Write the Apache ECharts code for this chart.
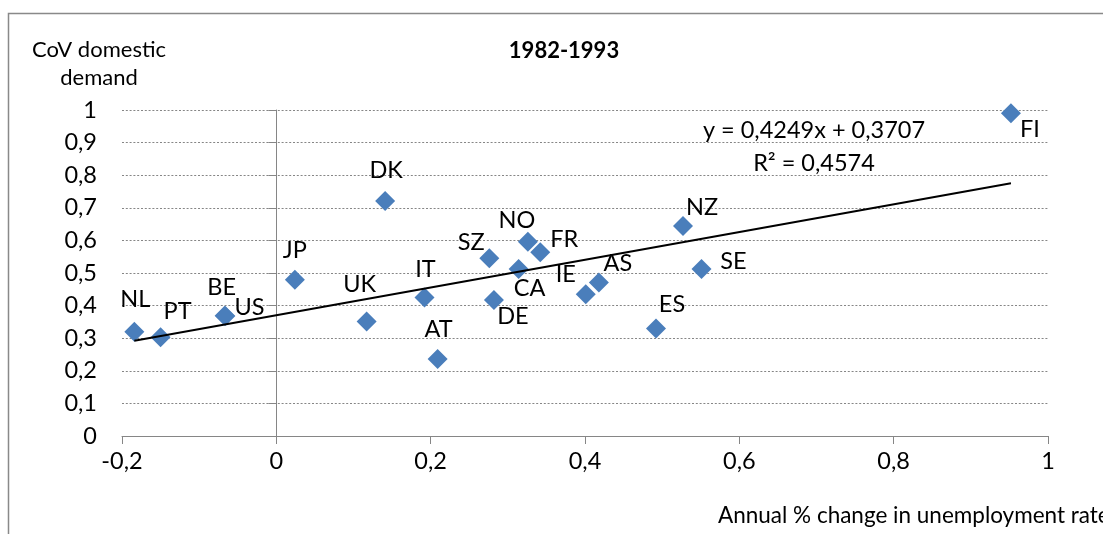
<!DOCTYPE html>
<html>
<head>
<meta charset="utf-8">
<title>1982-1993</title>
<script src="https://cdn.jsdelivr.net/npm/echarts@6/dist/echarts.min.js"></script>
<style>
  html, body { margin: 0; padding: 0; background: #fff; }
  #chart { width: 1103px; height: 534px; }
</style>
</head>
<body>
<div id="chart"></div>
<script>
// countries
const countries = ['NL', 'PT', 'BE', 'US', 'JP', 'UK', 'DK', 'IT', 'AT', 'SZ', 'DE', 'NO', 'FR', 'CA', 'IE', 'AS', 'ES', 'NZ', 'SE', 'FI']
// annual % change in unemployment rate (x)
const unemploymentChange = [-0.184, -0.150, -0.067, -0.066, 0.024, 0.117, 0.141, 0.192, 0.209, 0.276, 0.282, 0.326, 0.342, 0.314, 0.401, 0.418, 0.492, 0.527, 0.551, 0.952]
// CoV domestic demand (y)
const covDemand = [0.320, 0.303, 0.369, 0.368, 0.479, 0.351, 0.721, 0.425, 0.236, 0.545, 0.417, 0.596, 0.564, 0.512, 0.435, 0.471, 0.330, 0.644, 0.512, 0.990]
// linear trend line end points
const trendX = [-0.184, 0.952]
const trendY = [0.292, 0.775]
const trendText = ['y = 0,4249x + 0,3707', 'R² = 0,4574']

// where each label sits relative to its marker (px)
const labelOffset = {
  NL: [1, -32], PT: [17, -26], BE: [-3, -28], US: [24, -9], JP: [0, -29],
  UK: [-7, -37], DK: [1, -31], IT: [1, -28], AT: [1, -30], SZ: [-18, -16],
  DE: [19, 16], NO: [-11, -21], FR: [24, -13], CA: [11, 19], IE: [-20, -20],
  AS: [19, -19], ES: [16, -24], NZ: [19, -19], SE: [32, -8], FI: [19, 16]
}

const FONT = 'Lato'
const GRAY = '#868686'
const comma = v => String(Math.round(v * 10) / 10).replace('.', ',')

const chart = echarts.init(document.getElementById('chart'))

const points = countries.map((c, i) => ({
  name: c,
  value: [unemploymentChange[i], covDemand[i]],
  label: { offset: labelOffset[c] }
}))

const option = {
  animation: false,
  backgroundColor: '#fff',
  grid: { left: 122, right: 55, top: 110, bottom: 98 },
  xAxis: {
    type: 'value', min: -0.2, max: 1, interval: 0.2,
    axisLine: { show: true, onZero: false, lineStyle: { color: GRAY, width: 1 } },
    axisTick: { show: true, length: 8, lineStyle: { color: GRAY } },
    axisLabel: { formatter: comma, color: '#000', fontSize: 23.5, fontFamily: FONT, margin: 13 },
    splitLine: { show: false }
  },
  yAxis: [
    {
      // labels + dotted grid lines on the left
      type: 'value', position: 'left', min: 0, max: 1, interval: 0.1,
      axisLine: { show: false, onZero: false },
      axisTick: { show: false },
      axisLabel: { formatter: comma, color: '#000', fontSize: 23.5, fontFamily: FONT, margin: 25 },
      splitLine: { show: true, lineStyle: { color: GRAY, type: [2, 1.8], width: 1 } }
    },
    {
      // the vertical axis line that crosses at x = 0
      type: 'value', position: 'left', min: 0, max: 1, interval: 0.1,
      axisLine: { show: true, onZero: true, lineStyle: { color: GRAY, width: 1 } },
      axisTick: { show: true, length: 8, lineStyle: { color: GRAY } },
      axisLabel: { show: false },
      splitLine: { show: false }
    }
  ],
  series: [
    {
      type: 'scatter',
      yAxisIndex: 0,
      symbol: 'diamond',
      symbolSize: 20,
      itemStyle: { color: '#4a7ebb', opacity: 1 },
      label: {
        show: true, position: 'inside', formatter: '{b}',
        color: '#000', fontSize: 23.5, fontFamily: FONT
      },
      data: points,
      z: 3
    },
    {
      type: 'line',
      yAxisIndex: 0,
      data: trendX.map((x, i) => [x, trendY[i]]),
      showSymbol: false,
      symbol: 'none',
      lineStyle: { color: '#000', width: 2 },
      z: 4
    }
  ],
  graphic: [
    {
      type: 'rect', silent: true, z: -1,
      shape: { x: 8.5, y: 13.5, width: 1300, height: 700 },
      style: { fill: 'none', stroke: '#898989', lineWidth: 1.5 }
    },
    {
      type: 'text', x: 564, y: 51,
      style: { text: '1982-1993', font: 'bold 22px ' + FONT, fill: '#000', textAlign: 'center', textVerticalAlign: 'middle' }
    },
    {
      type: 'text', x: 99, y: 50,
      style: { text: 'CoV domestic', font: '22px ' + FONT, fill: '#000', textAlign: 'center', textVerticalAlign: 'middle' }
    },
    {
      type: 'text', x: 99, y: 78,
      style: { text: 'demand', font: '22px ' + FONT, fill: '#000', textAlign: 'center', textVerticalAlign: 'middle' }
    },
    {
      type: 'text', x: 814, y: 130,
      style: { text: trendText[0], font: '23.5px ' + FONT, fill: '#000', textAlign: 'center', textVerticalAlign: 'middle' }
    },
    {
      type: 'text', x: 814, y: 163,
      style: { text: trendText[1], font: '23.5px ' + FONT, fill: '#000', textAlign: 'center', textVerticalAlign: 'middle' }
    },
    {
      type: 'text', x: 718, y: 516,
      style: { text: 'Annual % change in unemployment rate', font: '22.5px ' + FONT, fill: '#000', textAlign: 'left', textVerticalAlign: 'middle' }
    }
  ]
}

chart.setOption(option)
</script>
</body>
</html>
